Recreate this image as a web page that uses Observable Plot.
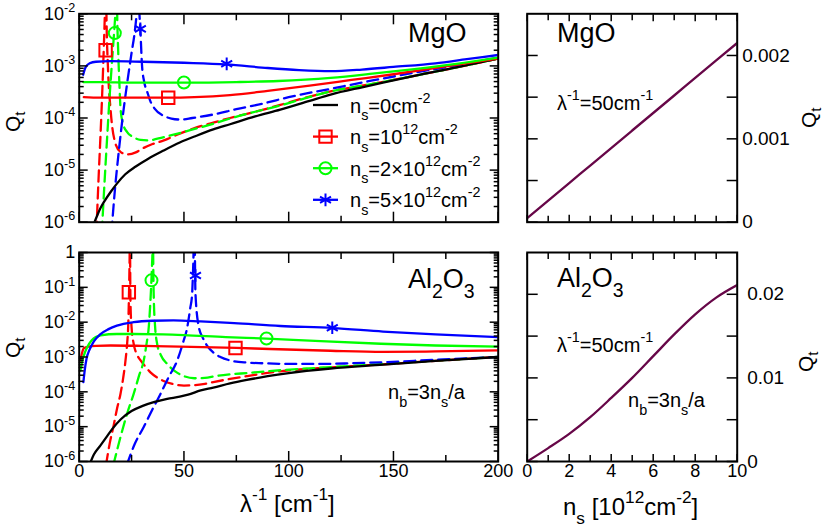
<!DOCTYPE html>
<html><head><meta charset="utf-8">
<script src="https://cdn.jsdelivr.net/npm/d3@7"></script>
<script src="https://cdn.jsdelivr.net/npm/@observablehq/plot@0.6"></script>
<style>
html,body{margin:0;padding:0;background:#fff;}
#wrap{position:relative;width:830px;height:528px;overflow:hidden;font-family:"Liberation Sans",Arial,Helvetica,sans-serif;}
.panel{position:absolute;}
#wrap svg text{white-space:pre;}
</style></head><body><div id="wrap"></div>
<script>
const FONT = '"Liberation Sans", Arial, Helvetica, sans-serif';
const RED = "#ff0000", GREEN = "#00ff00", BLUE = "#0000ff", BLACK = "#000000", MAROON = "#670748";

// ---------- MgO, Q_t vs lambda^-1 : pairs [lambda^-1 (cm^-1), log10 Q_t] ----------
const mgoNs0 = [[7.3,-6.0],[8.5,-5.88],[10,-5.74],[12,-5.6],[15,-5.42],[18,-5.26],[22,-5.08],[27,-4.93],[33,-4.78],[40,-4.63],[48,-4.47],[56,-4.34],[64,-4.22],[72,-4.12],[84,-3.97],[96,-3.84],[110,-3.67],[120,-3.55],[135,-3.41],[150,-3.28],[165,-3.15],[180,-3.03],[200,-2.86]];
const mgoNs1 = [[2.2,-3.6],[10,-3.61],[20,-3.61],[30,-3.61],[42,-3.61],[55,-3.6],[72,-3.56],[90,-3.48],[110,-3.38],[130,-3.27],[150,-3.16],[175,-3.01],[200,-2.86]];
const mgoNs2 = [[1.9,-3.31],[10,-3.31],[25,-3.32],[50,-3.32],[75,-3.31],[95,-3.29],[120,-3.23],[140,-3.15],[160,-3.06],[180,-2.96],[200,-2.84]];
const mgoNs5 = [[1.9,-3.17],[3,-3.03],[5,-2.95],[8,-2.92],[15,-2.91],[30,-2.92],[50,-2.94],[70,-2.97],[90,-3.04],[105,-3.08],[120,-3.1],[135,-3.07],[150,-3.02],[170,-2.95],[185,-2.87],[200,-2.79]];
const mgoNs1b = [[8.2,-6.2],[9.2,-5.2],[10.2,-4.3],[11.1,-3.4],[11.7,-2.7],[12.1,-2.2],[12.4,-1.7],[12.7,1],[13.0,-2.0],[13.7,-3.0],[15,-3.85],[17.3,-4.49],[19.7,-4.65],[23,-4.7],[27,-4.66],[30,-4.59],[35,-4.5],[40.4,-4.43],[48,-4.3],[56,-4.18],[64,-4.09],[72,-4.0],[84,-3.88],[96,-3.75],[108,-3.61],[120,-3.49],[135,-3.38],[150,-3.27],[165,-3.15],[180,-3.03],[200,-2.86]];
const mgoNs2b = [[10.8,-6.2],[12,-5.3],[13.3,-4.4],[14.5,-3.6],[15.6,-2.95],[16.5,-2.45],[17.1,-2.1],[17.5,-1.8],[17.8,1],[18.1,-1.9],[18.6,-2.7],[19.2,-3.35],[19.7,-3.8],[20.8,-4.1],[22.9,-4.27],[26,-4.37],[29.3,-4.42],[33,-4.43],[40,-4.37],[48,-4.29],[56,-4.2],[64,-4.11],[72,-4.01],[84,-3.88],[96,-3.76],[108,-3.62],[120,-3.49],[135,-3.38],[150,-3.27],[165,-3.15],[180,-3.03],[200,-2.86]];
const mgoNs5b = [[15.4,-6.2],[17,-5.4],[19,-4.6],[21,-3.9],[23,-3.3],[25,-2.75],[26.5,-2.35],[27.4,-2.0],[27.9,-1.7],[28.2,1],[28.6,-1.8],[29.2,-2.3],[30,-3.0],[31,-3.3],[32.5,-3.5],[34,-3.68],[36,-3.82],[40.4,-3.96],[44,-4.01],[48.4,-4.03],[54,-4.0],[64.3,-3.93],[75,-3.83],[88,-3.72],[100,-3.6],[120,-3.44],[140,-3.28],[160,-3.13],[180,-2.99],[200,-2.84]];
const mgoSquares = [[12.6,-2.70],[42.5,-3.61]];
const mgoCircles = [[17,-2.37],[50,-3.32]];
const mgoStars = [[29.2,-2.29],[70.4,-2.96]];

// ---------- Al2O3, Q_t vs lambda^-1 ----------
const alNs0 = [[5.2,-6.05],[7,-5.8],[10,-5.55],[13,-5.3],[16,-5.05],[20,-4.78],[25,-4.55],[30,-4.41],[36,-4.29],[42,-4.2],[48,-4.14],[52,-4.08],[58,-3.96],[64,-3.88],[72,-3.76],[80,-3.66],[90,-3.55],[100,-3.46],[120,-3.33],[145,-3.22],[170,-3.11],[200,-3.0]];
const alNs1 = [[0.6,-3.1],[1.3,-2.9],[2.2,-2.75],[4.6,-2.7],[8,-2.68],[15,-2.67],[30,-2.68],[48,-2.7],[75,-2.74],[91,-2.77],[120,-2.82],[145,-2.85],[170,-2.84],[200,-2.81]];
const alNs2 = [[0.6,-3.39],[1.3,-3.15],[2.2,-2.96],[3.8,-2.72],[6,-2.52],[10.2,-2.38],[18,-2.34],[26,-2.34],[40,-2.35],[50,-2.37],[70,-2.43],[89.4,-2.47],[110,-2.53],[144,-2.62],[170,-2.67],[200,-2.70]];
const alNs5 = [[2.0,-3.72],[2.6,-3.4],[3.5,-3.05],[5,-2.78],[7,-2.55],[10,-2.35],[14,-2.2],[18,-2.1],[26,-2.0],[35,-1.96],[45,-1.95],[58,-1.98],[74,-2.03],[96,-2.11],[121,-2.17],[145,-2.27],[170,-2.35],[200,-2.43]];
const alNs1b = [[12.8,-6.1],[14.5,-5.5],[16.5,-4.95],[18,-4.5],[19.7,-4.06],[21,-3.6],[22.1,-3.1],[22.9,-2.6],[23.4,-2.1],[23.7,-1.4],[23.95,-0.6],[24.1,0.1],[24.2,2],[24.3,0.1],[24.5,-1.5],[25,-2.15],[26,-2.62],[27.5,-2.92],[29.3,-3.1],[31.5,-3.27],[34,-3.44],[37,-3.58],[40,-3.68],[45,-3.78],[50,-3.82],[55,-3.81],[60,-3.77],[64,-3.72],[72,-3.63],[80,-3.55],[96,-3.41],[120,-3.3],[145,-3.21],[170,-3.11],[200,-3.0]];
const alNs2b = [[16.3,-6.1],[19.7,-5.3],[23,-4.6],[26,-4.06],[28.5,-3.55],[30.8,-3.1],[32.2,-2.6],[33.2,-2.14],[33.9,-1.5],[34.4,-0.9],[34.8,-0.3],[35.0,0.1],[35.15,2],[35.3,0.1],[35.6,-1.3],[36.2,-2.1],[37.2,-2.62],[39,-2.95],[42,-3.2],[46,-3.42],[50,-3.55],[55,-3.61],[60,-3.6],[65,-3.55],[72,-3.5],[80,-3.46],[96,-3.38],[120,-3.29],[145,-3.2],[170,-3.1],[200,-3.0]];
const alNs5b = [[22.7,-6.1],[26.5,-5.5],[30.8,-5.01],[35,-4.5],[38.8,-4.06],[42.5,-3.6],[46.8,-3.1],[49.5,-2.6],[51.6,-2.14],[53,-1.6],[53.9,-1.19],[54.3,-0.6],[54.6,0.1],[54.9,2],[55.2,0.1],[55.5,-1.19],[57.1,-2.14],[59,-2.45],[61.1,-2.68],[64,-2.87],[67.4,-3.0],[73.8,-3.12],[80,-3.16],[88,-3.18],[100,-3.2],[115,-3.2],[130,-3.18],[145,-3.15],[170,-3.08],[200,-3.0]];
const alSquares = [[23.7,-1.14],[74.6,-2.74]];
const alCircles = [[34.5,-0.80],[89.4,-2.47]];
const alStars = [[55.5,-0.66],[120.8,-2.16]];

// ---------- Q_t vs n_s at lambda^-1 = 50 cm^-1 ----------
const nsValues = [0,1,2,3,4,5,6,7,8,9,10];
const mgoQvsNs = [0.00005,0.00026,0.00047,0.00068,0.00089,0.0011,0.00131,0.00152,0.00173,0.00194,0.00215];
const alQvsNs  = [0,0.0016,0.0033,0.0053,0.0076,0.0100,0.0126,0.0152,0.0176,0.0196,0.0211];

// ---------- ticks ----------
const xMajorL = [0,50,100,150,200];
const xMinorL = [25,75,125,175];
const yMajorTop = [1e-6,1e-5,1e-4,1e-3,1e-2];
const yMajorBot = [1e-6,1e-5,1e-4,1e-3,1e-2,1e-1,1];
const xMajorR = [0,2,4,6,8,10];
const xMinorR = [1,3,5,7,9];
const yTicksTR = [0,0.0005,0.001,0.0015,0.002];
const yLabelsTR = [0,0.001,0.002];
const yTicksBR = [0,0.005,0.01,0.015,0.02];
const yLabelsBR = [0,0.01,0.02];
const minorsOf = (majors) => majors.slice(0,-1).flatMap(p => [2,3,4,5,6,7,8,9].map(m => m*p));

const toRows = (pairs) => pairs.map(([x, lq]) => ({x, y: Math.pow(10, lq)}));
const powFmt = d => { const e = Math.round(Math.log10(d)); return e === 0 ? "1" : `10^${e}`; };
const STYLE = {fontFamily: FONT, fontSize: "18px", background: "transparent", overflow: "visible", color: "#000"};

function tickAxes(xMaj, xMin, yMaj, yMin, L) {
  const o = {fill: "none", strokeWidth: 1.5, label: null};
  const out = [];
  for (const a of ["bottom","top"]) {
    out.push(Plot.axisX(xMaj, {...o, anchor: a, tickSize: -L.xMaj}));
    if (xMin) out.push(Plot.axisX(xMin, {...o, anchor: a, tickSize: -L.xMin}));
  }
  for (const a of ["left","right"]) {
    out.push(Plot.axisY(yMaj, {...o, anchor: a, tickSize: -L.yMaj}));
    if (yMin) out.push(Plot.axisY(yMin, {...o, anchor: a, tickSize: -L.yMin}));
  }
  return out;
}

function curveMarks(series) {
  return series.map(([pairs, color, dashed]) => Plot.line(toRows(pairs), {
    x: "x", y: "y", stroke: color, strokeWidth: 2.3, curve: "monotone-x", clip: true,
    strokeDasharray: dashed ? "11,6" : null
  }));
}
function markerMarks(sq, ci, st) {
  const o = {x: "x", y: "y", fill: "none", strokeWidth: 2, clip: true};
  return [
    Plot.dot(toRows(sq), {...o, symbol: "square", r: 7, stroke: RED}),
    Plot.dot(toRows(ci), {...o, symbol: "circle", r: 6, stroke: GREEN}),
    Plot.dot(toRows(st), {...o, symbol: "asterisk", r: 6, stroke: BLUE})
  ];
}

function supTicks(svg, fs) {
  d3.select(svg).selectAll("text").each(function() {
    const m = /^10\^(-?\d+)$/.exec(this.textContent);
    if (!m) return;
    const t = d3.select(this);
    t.text(null);
    t.append("tspan").text("10");
    t.append("tspan").attr("dy", -0.42*fs).attr("font-size", 0.7*fs).text(m[1]);
  });
}

const wrap = document.getElementById("wrap");
function place(svg, left, top) {
  const d = document.createElement("div");
  d.className = "panel"; d.style.left = left + "px"; d.style.top = top + "px";
  d.appendChild(svg); wrap.appendChild(d);
}

// Top-left: MgO log panel
const tl = Plot.plot({
  width: 510, height: 240, marginLeft: 78.7, marginRight: 12.3, marginTop: 13.3, marginBottom: 18.3,
  x: {domain: [0, 200], label: null},
  y: {type: "log", domain: [1e-6, 1e-2], label: null},
  style: STYLE,
  marks: [
    ...curveMarks([[mgoNs1b, RED, true],[mgoNs2b, GREEN, true],[mgoNs5b, BLUE, true],
                   [mgoNs0, BLACK, false],[mgoNs1, RED, false],[mgoNs2, GREEN, false],[mgoNs5, BLUE, false]]),
    ...markerMarks(mgoSquares, mgoCircles, mgoStars),
    ...tickAxes(xMajorL, xMinorL, yMajorTop, minorsOf(yMajorTop), {xMaj: 10, xMin: 6, yMaj: 9, yMin: 5}),
    Plot.axisY(yMajorTop, {anchor: "left", tickSize: 0, tickPadding: 4, tickFormat: powFmt, label: null}),
    Plot.frame({strokeWidth: 2})
  ]
});
supTicks(tl, 18);
place(tl, 0, 0);

// Bottom-left: Al2O3 log panel
const bl = Plot.plot({
  width: 510, height: 288, marginLeft: 78.7, marginRight: 12.3, marginTop: 12, marginBottom: 67,
  x: {domain: [0, 200], label: null},
  y: {type: "log", domain: [1e-6, 1], label: null},
  style: STYLE,
  marks: [
    ...curveMarks([[alNs1b, RED, true],[alNs2b, GREEN, true],[alNs5b, BLUE, true],
                   [alNs0, BLACK, false],[alNs1, RED, false],[alNs2, GREEN, false],[alNs5, BLUE, false]]),
    ...markerMarks(alSquares, alCircles, alStars),
    ...tickAxes(xMajorL, xMinorL, yMajorBot, minorsOf(yMajorBot), {xMaj: 10, xMin: 6, yMaj: 9, yMin: 5}),
    Plot.axisY(yMajorBot, {anchor: "left", tickSize: 0, tickPadding: 4, tickFormat: powFmt, label: null}),
    Plot.axisX(xMajorL, {anchor: "bottom", tickSize: 0, tickPadding: 3, label: null}),
    Plot.frame({strokeWidth: 2})
  ]
});
supTicks(bl, 18);
place(bl, 0, 240);

// Top-right: MgO vs n_s
const trRows = nsValues.map((n, i) => ({x: n, y: mgoQvsNs[i]}));
const tr = Plot.plot({
  width: 320, height: 240, marginLeft: 16.7, marginRight: 93.3, marginTop: 13.3, marginBottom: 18.3,
  x: {domain: [0, 10], label: null},
  y: {domain: [0, 0.0025], label: null},
  style: STYLE,
  marks: [
    Plot.line(trRows, {x: "x", y: "y", stroke: MAROON, strokeWidth: 2.3, curve: "monotone-x", clip: true}),
    ...tickAxes(xMajorR, xMinorR, yTicksTR, null, {xMaj: 7, xMin: 6, yMaj: 11}),
    Plot.axisY(yLabelsTR, {anchor: "right", tickSize: 0, tickPadding: 5, tickFormat: d => String(d), fontSize: 19, label: null}),
    Plot.frame({strokeWidth: 2})
  ]
});
place(tr, 510, 0);

// Bottom-right: Al2O3 vs n_s
const brRows = nsValues.map((n, i) => ({x: n, y: alQvsNs[i]}));
const br = Plot.plot({
  width: 320, height: 288, marginLeft: 16.7, marginRight: 93.3, marginTop: 12, marginBottom: 67,
  x: {domain: [0, 10], label: null},
  y: {domain: [0, 0.025], label: null},
  style: STYLE,
  marks: [
    Plot.line(brRows, {x: "x", y: "y", stroke: MAROON, strokeWidth: 2.3, curve: "monotone-x", clip: true}),
    ...tickAxes(xMajorR, xMinorR, yTicksBR, null, {xMaj: 7, xMin: 6, yMaj: 11}),
    Plot.axisY(yLabelsBR, {anchor: "right", tickSize: 0, tickPadding: 10, tickFormat: d => String(d), fontSize: 19, label: null}),
    Plot.axisX(xMajorR, {anchor: "bottom", tickSize: 0, tickPadding: 3, label: null}),
    Plot.frame({strokeWidth: 2})
  ]
});
place(br, 510, 240);

// ---------- overlay: titles, annotations, legend ----------
const ov = d3.select(wrap).append("svg")
  .attr("width", 830).attr("height", 528)
  .style("position", "absolute").style("left", 0).style("top", 0)
  .style("pointer-events", "none").style("overflow", "visible")
  .attr("font-family", FONT);

function rich(x, y, parts, fs, rotate, subShift = 0.38) {
  const t = ov.append("text").attr("font-size", fs).attr("fill", "#000");
  if (rotate) t.attr("transform", `translate(${x},${y}) rotate(${rotate})`);
  else t.attr("x", x).attr("y", y);
  let cur = 0;
  for (const [s, k] of parts) {
    const target = k === "sup" ? -0.5*fs : k === "sub" ? subShift*fs : 0;
    const ts = t.append("tspan").text(s);
    if (target !== cur) ts.attr("dy", target - cur);
    if (k) ts.attr("font-size", 0.72*fs);
    cur = target;
  }
  return t;
}

const mgoLabel = [["MgO",""]];
const alLabel = [["Al",""],["2","sub"],["O",""],["3","sub"]];
const lamLabel = [["λ",""],["-1","sup"],["=50cm",""],["-1","sup"]];
const nbLabel = [["n",""],["b","sub"],["=3n",""],["s","sub"],["/a",""]];
const qLabel = [["Q",""],["t","sub"]];
const xTitleL = [["λ",""],["-1","sup"],[" [cm",""],["-1","sup"],["]",""]];
const xTitleR = [["n",""],["s","sub"],[" [10",""],["12","sup"],["cm",""],["-2","sup"],["]",""]];

rich(408, 42, mgoLabel, 27);
rich(557, 42, mgoLabel, 27);
rich(408, 288, alLabel, 27);
rich(557, 287, alLabel, 27);
rich(557, 110, lamLabel, 20);
rich(557, 352, lamLabel, 20);
rich(388, 399, nbLabel, 20);
rich(628, 407, nbLabel, 20);
rich(19.5, 132, qLabel, 21, -90, 0.25);
rich(19.5, 358, qLabel, 21, -90, 0.25);
rich(816, 128, qLabel, 21, -90, 0.25);
rich(813, 372, qLabel, 21, -90, 0.25);
rich(240, 512, xTitleL, 24);
rich(563, 515, xTitleR, 24);

// legend
const legendLabels = [
  [["n",""],["s","sub"],["=0cm",""],["-2","sup"]],
  [["n",""],["s","sub"],["=10",""],["12","sup"],["cm",""],["-2","sup"]],
  [["n",""],["s","sub"],["=2×10",""],["12","sup"],["cm",""],["-2","sup"]],
  [["n",""],["s","sub"],["=5×10",""],["12","sup"],["cm",""],["-2","sup"]]
];
const legendColors = [BLACK, RED, GREEN, BLUE];
const legendSymbols = [null, d3.symbolSquare, d3.symbolCircle, d3.symbolAsterisk];
const legendR = [0, 7, 6, 6];
legendLabels.forEach((parts, i) => {
  const cy = 105 + i*31.6;
  ov.append("line").attr("x1", 313).attr("x2", 338).attr("y1", cy).attr("y2", cy)
    .attr("stroke", legendColors[i]).attr("stroke-width", 2.3);
  if (legendSymbols[i]) {
    ov.append("path").attr("d", d3.symbol().type(legendSymbols[i]).size(Math.PI*legendR[i]*legendR[i])())
      .attr("transform", `translate(325.5,${cy})`).attr("fill", "none")
      .attr("stroke", legendColors[i]).attr("stroke-width", 2);
  }
  rich(350, cy + 7.5, parts, 20);
});
</script></body></html>
